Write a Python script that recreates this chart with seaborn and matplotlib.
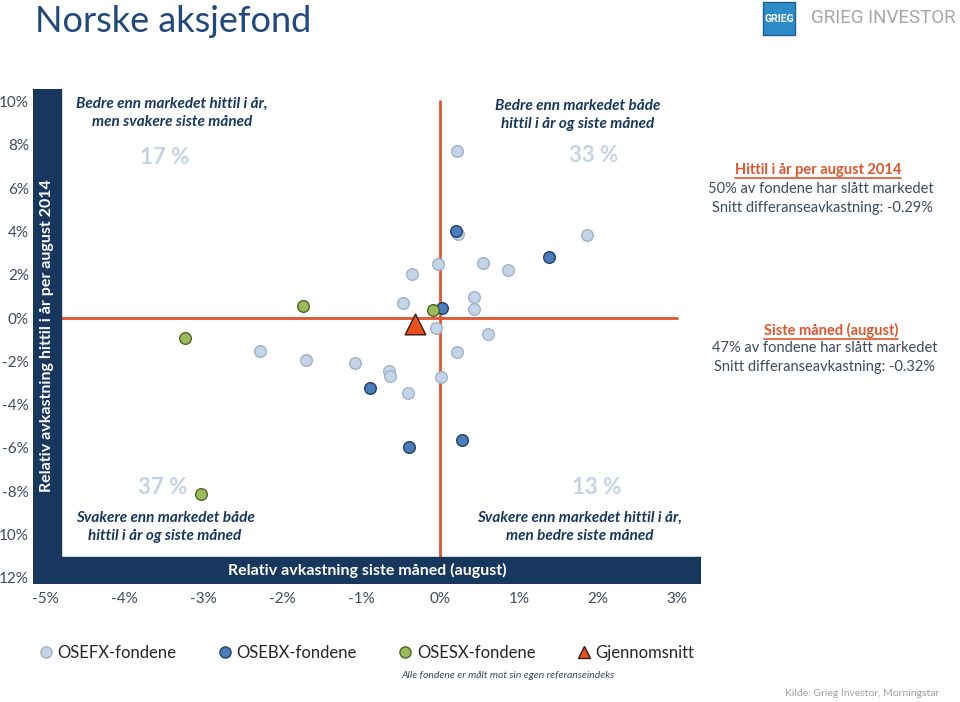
import matplotlib
matplotlib.use("Agg")
import matplotlib.pyplot as plt
import seaborn as sns
import pandas as pd
from matplotlib.patches import Rectangle
from matplotlib.lines import Line2D

# relativ avkastning siste måned (x) og hittil i år (y), i prosent
osefx_month = [0.22, 0.23, -0.03, 0.54, 0.86, -0.35, 0.43, -0.47, 0.43, -0.05,
               0.61, -2.28, 0.22, -1.69, -1.07, -0.65, -0.63, 0.01, -0.41, 1.86]
osefx_ytd = [7.73, 3.87, 2.51, 2.56, 2.20, 2.05, 0.97, 0.69, 0.42, -0.45,
             -0.74, -1.52, -1.57, -1.92, -2.08, -2.43, -2.68, -2.71, -3.45, 3.83]
osebx_month = [0.20, 0.02, -0.88, 1.38, -0.39, 0.28]
osebx_ytd = [4.02, 0.45, -3.25, 2.82, -5.96, -5.64]
osesx_month = [-1.74, -0.09, -3.23, -3.03]
osesx_ytd = [0.55, 0.37, -0.92, -8.13]
avg_month = [-0.32]
avg_ytd = [-0.29]

x_ticks = [-5, -4, -3, -2, -1, 0, 1, 2, 3]
x_labels = ["-5%", "-4%", "-3%", "-2%", "-1%", "0%", "1%", "2%", "3%"]
y_ticks = [10, 8, 6, 4, 2, 0, -2, -4, -6, -8, -10, -12]
y_labels = ["10%", "8%", "6%", "4%", "2%", "0%", "-2%", "-4%", "-6%", "-8%", "10%", "12%"]

groups = [
    ("OSEFX-fondene", osefx_month, osefx_ytd, "#C6D4E8", "#9FB2CC"),
    ("OSEBX-fondene", osebx_month, osebx_ytd, "#4A7EBB", "#1F3F6A"),
    ("OSESX-fondene", osesx_month, osesx_ytd, "#9BBB59", "#4F6228"),
]

navy = "#17375E"
orange = "#E0552B"
txt = "#3F4A5E"
pct = "#C5D3E6"

sns.set_style("white")
plt.rcParams["font.family"] = ["Lato", "DejaVu Sans"]

W, H = 960, 702
fig = plt.figure(figsize=(9.6, 7.02), dpi=100)

# axes covers the whole dark frame: px 33..701, 89..584
L, R, T, B = 33, 701, 89, 584
ax = fig.add_axes([L / W, 1 - B / H, (R - L) / W, (B - T) / H])
ax.set_xlim((L - 440) / 79, (R - 440) / 79)
ax.set_ylim((318 - B) / 21.65, (318 - T) / 21.65)
for s in ax.spines.values():
    s.set_visible(False)
ax.grid(False)

ax.plot([-5, 3], [0, 0], color=orange, lw=2, zorder=1)
ax.plot([0, 0], [-12, 10], color=orange, lw=2, zorder=1)

for name, xs, ys, fc, ec in groups:
    df = pd.DataFrame({"x": xs, "y": ys})
    sns.scatterplot(data=df, x="x", y="y", ax=ax, color=fc, edgecolor=ec,
                    linewidth=1, s=70, zorder=3, legend=False)
sns.scatterplot(x=avg_month, y=avg_ytd, ax=ax, marker="^", color="#E8501E",
                edgecolor="#3A1A10", linewidth=1, s=220, zorder=4, legend=False)

# dark frame
bw = (61 - L) / (R - L)
bh = (B - 557) / (B - T)
ax.add_patch(Rectangle((0, 0), bw, 1, transform=ax.transAxes, color=navy, zorder=5))
ax.add_patch(Rectangle((0, 0), 1, bh, transform=ax.transAxes, color=navy, zorder=5))

ax.set_xticks(x_ticks)
ax.set_xticklabels(x_labels)
ax.set_yticks(y_ticks)
ax.set_yticklabels(y_labels)
ax.tick_params(axis="both", length=0, labelsize=11, labelcolor=txt)
ax.tick_params(axis="x", pad=6)
ax.tick_params(axis="y", pad=3)
ax.set_xlabel("")
ax.set_ylabel("")


def ftext(x, y, s, **kw):
    return fig.text(x / W, 1 - y / H, s, **kw)


ftext(47, 336, "Relativ avkastning hittil i år per august 2014", rotation=90,
      color="white", fontsize=11.5, fontweight="bold", ha="center", va="center")
ftext(367, 570, "Relativ avkastning siste måned (august)", color="white",
      fontsize=11.5, fontweight="bold", ha="center", va="center")

# quadrant text
qkw = dict(color=navy, fontsize=11, fontweight="bold", fontstyle="italic",
           ha="center", va="center", linespacing=1.45)
ftext(172, 113, "Bedre enn markedet hittil i år,\nmen svakere siste måned", **qkw)
ftext(578, 115, "Bedre enn markedet både\nhittil i år og siste måned", **qkw)
ftext(165, 527, "Svakere enn markedet både\nhittil i år og siste måned", **qkw)
ftext(580, 527, "Svakere enn markedet hittil i år,\nmen bedre siste måned", **qkw)
pkw = dict(color=pct, fontsize=16, fontweight="bold", ha="center", va="center")
ftext(165, 157, "17 %", **pkw)
ftext(594, 156, "33 %", **pkw)
ftext(163, 488, "37 %", **pkw)
ftext(597, 487, "13 %", **pkw)

# right notes
hkw = dict(color=orange, fontsize=10.5, fontweight="bold", ha="center", va="center")
nkw = dict(color=txt, fontsize=10.5, ha="center", va="center")
h1 = ftext(818, 170, "Hittil i år per august 2014", **hkw)
ftext(821, 189, "50% av fondene har slått markedet", **nkw)
ftext(822, 208, "Snitt differanseavkastning: -0.29%", **nkw)
h2 = ftext(831, 330, "Siste måned (august)", **hkw)
ftext(825, 348, "47% av fondene har slått markedet", **nkw)
ftext(825, 367, "Snitt differanseavkastning: -0.32%", **nkw)

# title and logo
ftext(35, 21, "Norske aksjefond", color="#1F497D", fontsize=26, va="center")
fig.patches.append(Rectangle((763 / W, 1 - 35 / H), 32 / W, 33 / H,
                             transform=fig.transFigure, facecolor="#2E8BC9",
                             edgecolor="#1F5F8F", lw=1))
ftext(779, 19, "GRIEG", color="white", fontsize=7.5, fontweight="bold",
      ha="center", va="center", fontfamily="Roboto")
ftext(883, 18, "GRIEG INVESTOR", color="#A6A6A6", fontsize=13.5, ha="center",
      va="center", fontfamily="Roboto")

# legend
handles = [Line2D([], [], marker="o", ls="", markersize=8, markerfacecolor=fc,
                  markeredgecolor=ec, label=name) for name, _, _, fc, ec in groups]
handles.append(Line2D([], [], marker="^", ls="", markersize=9,
                      markerfacecolor="#E8501E", markeredgecolor="#3A1A10",
                      label="Gjennomsnitt"))
fig.legend(handles=handles, loc="center", bbox_to_anchor=(365 / W, 1 - 653 / H),
           ncol=4, frameon=False, fontsize=12, handletextpad=0.1,
           columnspacing=2.3, handlelength=1.2)
ftext(508, 676, "Alle fondene er målt mot sin egen referanseindeks", color=txt,
      fontsize=7.5, fontstyle="italic", ha="center", va="center")
ftext(862, 694, "Kilde: Grieg Investor, Morningstar", color="#A0A0A0",
      fontsize=7.5, ha="center", va="center")

# underline the orange headings
fig.canvas.draw()
rend = fig.canvas.get_renderer()
for h in (h1, h2):
    bb = h.get_window_extent(rend)
    y = bb.y0 - 1
    fig.add_artist(Line2D([bb.x0 / W, bb.x1 / W], [y / H, y / H], color=orange,
                          lw=1.2, transform=fig.transFigure))

fig.savefig("out.png", dpi=100)
